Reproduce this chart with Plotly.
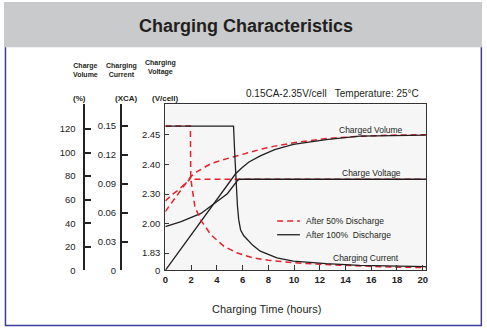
import numpy as np
import plotly.graph_objects as go

W, H = 487, 334

# ---------------- data ----------------
# Voltage axis (non-linear illustrative scale): tick values and their evenly spaced positions
V_TICKS = [0, 1.83, 2.00, 2.30, 2.40, 2.45]
V_TICKTEXT = ["0", "1.83", "2.00", "2.30", "2.40", "2.45"]
V_POS = [0, 17.5, 47.5, 77.5, 107.5, 137.5]

X_TICKS = list(range(0, 21, 2))
VOL_TICKS = [0, 20, 40, 60, 80, 100, 120]
CUR_TICKS = [0, 0.03, 0.06, 0.09, 0.12, 0.15]
CUR_TICKTEXT = ["0", "0.03", "0.06", "0.09", "0.12", "0.15"]

# After 100% discharge
h_vol_100 = [0, 5.33, 5.46, 6.0, 6.5, 7.38, 8.5, 9.95, 12.5, 15.1, 17.5, 20.25]
vol_100 = [0, 80, 82, 87.5, 92, 97.2, 102.5, 106.9, 111, 113.9, 114.5, 114.8]
h_volt_100 = [0, 1.23, 2.77, 3.54, 4.82, 5.59, 5.75, 20.25]
volt_100 = [1.983, 2.02, 2.103, 2.177, 2.301, 2.345, 2.35, 2.35]
h_cur_100 = [0, 5.3, 5.4, 5.5, 5.6, 5.7, 5.85, 6.1, 6.36, 6.8, 7.38, 8.67, 9.95, 12.5, 15.1, 17.5, 20.25]
cur_100 = [0.15, 0.15, 0.12, 0.092, 0.068, 0.053, 0.042, 0.036, 0.032, 0.026, 0.020, 0.013, 0.0097, 0.007, 0.0053, 0.0045, 0.0039]

# After 50% discharge
h_vol_50 = [0, 2.0, 2.5, 3.54, 4.5, 5.33, 6.5, 7.38, 8.5, 9.95, 12.5, 15.1, 17.5, 20.25]
vol_50 = [50, 80, 84, 90.6, 94, 96.6, 100.5, 102.7, 105.5, 108.3, 111.9, 113.9, 114.8, 115.2]
h_volt_50 = [0, 0.58, 1.0, 1.5, 1.9, 2.0, 2.15, 20.25]
volt_50 = [2.23, 2.30, 2.313, 2.332, 2.35, 2.358, 2.35, 2.35]
h_cur_50 = [0, 1.95, 1.97, 1.98, 2.3, 2.77, 3.54, 4.56, 5.6, 6.8, 8.0, 9.95, 12.5, 15.1, 17.5, 20.25]
cur_50 = [0.15, 0.15, 0.107, 0.095, 0.066, 0.052, 0.037, 0.025, 0.018, 0.013, 0.0105, 0.008, 0.006, 0.0045, 0.0035, 0.0029]

# ---------------- helpers ----------------
def px(x):
    return x / W

def py(y):
    return (H - y) / H

def vpos(v):
    return np.interp(v, V_TICKS, V_POS)

FONT = "Liberation Sans, Arial, sans-serif"
DARK = "#231f20"
RED = "#e8202a"

fig = go.Figure()

red = dict(color=RED, width=1.5, dash="6px,4px")
blk = dict(color=DARK, width=1.3)

fig.add_trace(go.Scatter(x=h_cur_50, y=cur_50, yaxis="y3", mode="lines", line=red, name="Current 50%"))
fig.add_trace(go.Scatter(x=h_vol_50, y=vol_50, yaxis="y2", mode="lines", line=red, name="Volume 50%"))
fig.add_trace(go.Scatter(x=h_volt_50, y=vpos(volt_50), yaxis="y", mode="lines", line=red, name="Voltage 50%"))
fig.add_trace(go.Scatter(x=h_cur_100, y=cur_100, yaxis="y3", mode="lines", line=blk, name="Current 100%"))
fig.add_trace(go.Scatter(x=h_vol_100, y=vol_100, yaxis="y2", mode="lines", line=blk, name="Volume 100%"))
fig.add_trace(go.Scatter(x=h_volt_100, y=vpos(volt_100), yaxis="y", mode="lines", line=blk, name="Voltage 100%"))

x_dom = [px(164), px(427.3)]
y_dom = [py(274.5), py(106)]

tickfont = dict(family=FONT, size=9.5, color="#222")

fig.update_layout(
    width=W, height=H,
    margin=dict(l=0, r=0, t=0, b=0),
    paper_bgcolor="white",
    plot_bgcolor="#f6f6f6",
    showlegend=False,
    xaxis=dict(domain=x_dom, range=[0, 20.25], tickvals=X_TICKS, ticks="inside", ticklen=5,
               tickcolor="#333", showline=True, mirror=True, linecolor="#333", linewidth=1,
               showgrid=False, zeroline=False,
               tickfont=dict(family=FONT, size=9.5, color="#222", weight="bold"), anchor="y"),
    yaxis=dict(domain=y_dom, range=[0, 168.5], tickvals=V_POS, ticktext=V_TICKTEXT,
               ticks="inside", ticklen=4, tickcolor="#333", showline=True, mirror=True,
               linecolor="#333", linewidth=1, showgrid=False, zeroline=False,
               tickfont=tickfont, ticklabelstandoff=2),
    yaxis2=dict(overlaying="y", anchor="free", position=px(82), side="left",
                range=[0, 140.9], tickvals=VOL_TICKS + [140.9],
                ticktext=[str(v) for v in VOL_TICKS] + [""],
                ticks="inside", ticklen=6, tickwidth=1.5, tickcolor="#222",
                showline=True, linecolor="#222", linewidth=1.5,
                showgrid=False, zeroline=False, tickfont=tickfont, ticklabelstandoff=6),
    yaxis3=dict(overlaying="y", anchor="free", position=px(119), side="left",
                range=[0, 0.1725], tickvals=CUR_TICKS + [0.1725],
                ticktext=CUR_TICKTEXT + [""],
                ticks="inside", ticklen=6, tickwidth=1.5, tickcolor="#222",
                showline=True, linecolor="#222", linewidth=1.5,
                showgrid=False, zeroline=False, tickfont=tickfont, ticklabelstandoff=2),
)

shapes = [
    dict(type="rect", xref="paper", yref="paper", x0=px(1), x1=px(484), y0=py(48), y1=py(2),
         fillcolor="#c9cacc", line=dict(width=0), layer="below"),
    dict(type="path", xref="paper", yref="paper",
         path=f"M {px(2.5)},{py(48)} L {px(2.5)},{py(330.5)} L {px(483.3)},{py(330.5)} L {px(483.3)},{py(48)}",
         line=dict(color="#3b3b9e", width=1.5)),
    # legend samples
    dict(type="line", xref="paper", yref="paper", x0=px(277), x1=px(300), y0=py(224.3), y1=py(224.3),
         line=dict(color=RED, width=1.5, dash="6px,4px")),
    dict(type="line", xref="paper", yref="paper", x0=px(277), x1=px(300), y0=py(238.3), y1=py(238.3),
         line=dict(color=DARK, width=1.3)),
]
fig.update_layout(shapes=shapes)

def ann(text, x, y, size, xanchor="center", bold=False, color=DARK):
    fig.add_annotation(text=text, x=px(x), y=py(y), xref="paper", yref="paper",
                       xanchor=xanchor, yanchor="middle", showarrow=False,
                       font=dict(family=FONT, size=size, color=color, weight="bold" if bold else "normal"))

ann("Charging Characteristics", 245.5, 26.7, 18, bold=True)
ann("0.15CA-2.35V/cell   Temperature: 25°C", 422.7, 95, 10, xanchor="right")
ann("Charged Volume", 372, 131.7, 8.5)
ann("Charge Voltage", 372, 175.7, 8.5)
ann("Charging Current", 367, 261.7, 8.5)
ann("After 50% Discharge", 304, 224.3, 8.5, xanchor="left")
ann("After 100%\u00a0 Discharge", 304, 238.3, 8.5, xanchor="left")
ann("Charging Time (hours)", 266, 313.3, 11)

NARROW = "Liberation Sans Narrow, Liberation Sans, Arial, sans-serif"
for txt, x, y in [("Charge<br>Volume", 83.5, 71), ("Charging<br>Current", 119.3, 71), ("Charging<br>Voltage", 159, 69)]:
    fig.add_annotation(text=txt, x=px(x), y=py(y), xref="paper", yref="paper", showarrow=False,
                       xanchor="center", yanchor="middle",
                       font=dict(family=NARROW, size=7, color=DARK, weight="bold"))
for txt, x in [("(%)", 77), ("(XCA)", 125), ("(V/cell)", 164)]:
    fig.add_annotation(text=txt, x=px(x), y=py(100), xref="paper", yref="paper", showarrow=False,
                       xanchor="center", yanchor="middle",
                       font=dict(family=FONT, size=8, color=DARK, weight="bold"))

fig.write_html("out.html")
